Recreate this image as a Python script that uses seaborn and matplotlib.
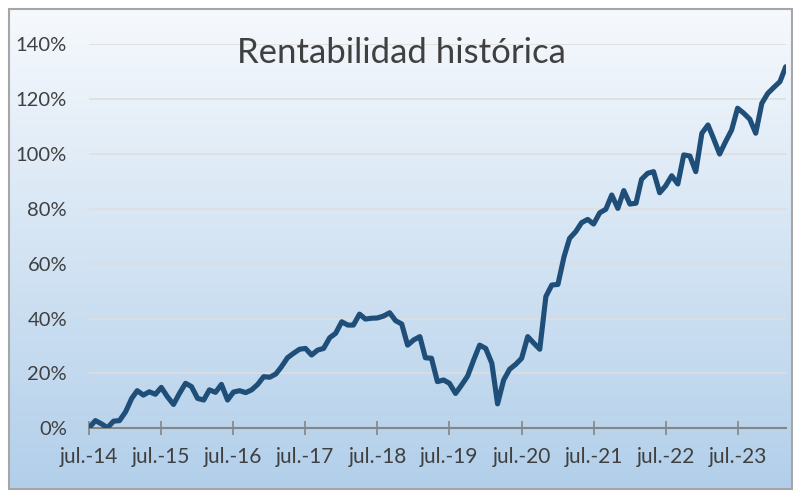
import numpy as np
import pandas as pd
import matplotlib
matplotlib.use("Agg")
import matplotlib.pyplot as plt
from matplotlib.ticker import FuncFormatter
from matplotlib.patches import Rectangle
import seaborn as sns

# ---- data (monthly cumulative return, %) ----
start_month = "2014-07-01"
rentabilidad = [
    0.3, 2.8, 1.6, 0.2, 2.6, 2.8, 6.0, 10.9, 13.7, 12.1, 13.3, 12.4,
    14.9, 11.5, 8.7, 12.7, 16.4, 15.2, 10.9, 10.3, 14.0, 13.1, 16.0, 10.3,
    13.2, 13.7, 13.0, 14.0, 16.0, 18.8, 18.6, 19.8, 22.4, 25.7, 27.3, 28.8,
    29.1, 26.7, 28.5, 29.1, 33.0, 34.6, 38.8, 37.6, 37.6, 41.6, 39.8, 40.1,
    40.2, 40.9, 42.1, 39.2, 38.0, 30.3, 32.2, 33.4, 25.7, 25.5, 17.0, 17.6,
    16.4, 12.7, 15.8, 19.0, 24.9, 30.3, 29.1, 23.7, 8.9, 17.6, 21.5, 23.3,
    25.5, 33.4, 31.0, 28.8, 48.0, 52.2, 52.4, 62.5, 69.2, 71.6, 74.9, 76.1,
    74.4, 78.5, 79.8, 85.0, 80.1, 86.6, 81.7, 82.0, 90.7, 92.9, 93.5, 85.8,
    88.3, 92.0, 89.0, 99.6, 99.2, 93.5, 107.5, 110.5, 105.6, 99.9, 104.4, 108.7,
    116.6, 114.8, 112.6, 107.5, 118.4, 122.0, 124.2, 126.3, 131.7,
]
tick_dates = ["2014-07-01", "2015-07-01", "2016-07-01", "2017-07-01", "2018-07-01",
              "2019-07-01", "2020-07-01", "2021-07-01", "2022-07-01", "2023-07-01"]
tick_labels = ["jul.-14", "jul.-15", "jul.-16", "jul.-17", "jul.-18",
               "jul.-19", "jul.-20", "jul.-21", "jul.-22", "jul.-23"]
y_ticks = [0, 20, 40, 60, 80, 100, 120, 140]
title = "Rentabilidad histórica"

fechas = pd.date_range(start_month, periods=len(rentabilidad), freq="MS")
df = pd.DataFrame({"fecha": fechas, "rentabilidad": rentabilidad})

sns.set_theme(style="white")
plt.rcParams["font.family"] = ["Lato", "DejaVu Sans"]

W, H = 793, 491
fig = plt.figure(figsize=(W / 100, H / 100), dpi=100)
fig.patch.set_facecolor("white")

# gradient background inside the chart frame
fl, fb, fr, ft = 9 / W, 2 / H, 792 / W, (H - 9) / H
bg = fig.add_axes([fl, fb, fr - fl, ft - fb], zorder=0)
top_c = np.array([246, 249, 253]) / 255
bot_c = np.array([178, 207, 234]) / 255
t = np.linspace(0, 1, 256)[:, None]
grad = top_c[None, :] * (1 - t) + bot_c[None, :] * t
img = np.repeat(grad[:, None, :], 2, axis=1)
bg.imshow(img, aspect="auto", extent=[0, 1, 0, 1], interpolation="bilinear")
bg.set_xlim(0, 1)
bg.set_ylim(0, 1)
bg.axis("off")
fig.patches.append(Rectangle((fl, fb), fr - fl, ft - fb, transform=fig.transFigure,
                             fill=False, edgecolor="#a6a6a6", linewidth=1.5, zorder=5))

ax_l, ax_r = 89.3 / W, 785.7 / W
ax_b, ax_t = (H - 428.3) / H, (H - 44.0) / H
ax = fig.add_axes([ax_l, ax_b, ax_r - ax_l, ax_t - ax_b], zorder=1)
ax.set_facecolor("none")

sns.lineplot(data=df, x="fecha", y="rentabilidad", ax=ax, color="#1f4e79",
             linewidth=3.7, solid_joinstyle="round", solid_capstyle="round", zorder=3)

ax.set_xlim(fechas[0], fechas[-1])
ax.set_ylim(0, 140)
ax.set_yticks(y_ticks)
ax.yaxis.set_major_formatter(FuncFormatter(lambda v, p: f"{v:.0f}%"))
ax.set_xticks(pd.to_datetime(tick_dates))
ax.set_xticklabels(tick_labels)

ax.grid(axis="y", color="#dedede", linewidth=1.2, zorder=1)
ax.grid(axis="x", visible=False)
for s in ["top", "right", "left"]:
    ax.spines[s].set_visible(False)
ax.spines["bottom"].set_color("#868686")
ax.spines["bottom"].set_linewidth(1.5)
ax.spines["bottom"].set_zorder(2)

ax.tick_params(axis="y", length=0, pad=16, labelsize=14.5, labelcolor="#404040")
ax.tick_params(axis="x", direction="inout", length=9.5, width=1.2, color="#868686",
               pad=9, labelsize=15, labelcolor="#404040", bottom=True)
ax.set_xlabel("")
ax.set_ylabel("")

fig.text(401.7 / W, (H - 53) / H, title, ha="center", va="center",
         fontsize=25, color="#404040")

fig.savefig("out.png", dpi=100)
